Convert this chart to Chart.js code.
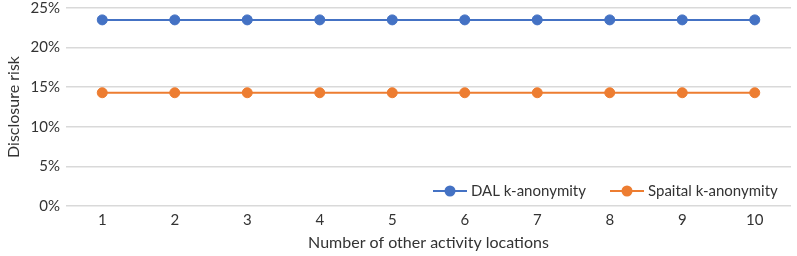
<!DOCTYPE html>
<html>
<head>
<meta charset="utf-8">
<script src="https://cdn.jsdelivr.net/npm/chart.js@4"></script>
<style>
    html, body { margin: 0; padding: 0; background: #fff; }
    #wrap { width: 797px; height: 256px; position: relative; }
</style>
</head>
<body>
<div id="wrap"><canvas id="riskChart" width="797" height="256"></canvas></div>
<script>
// chart data
const categories = ["1", "2", "3", "4", "5", "6", "7", "8", "9", "10"];
const dalValues = [0.235, 0.235, 0.235, 0.235, 0.235, 0.235, 0.235, 0.235, 0.235, 0.235];
const spatialValues = [0.143, 0.143, 0.143, 0.143, 0.143, 0.143, 0.143, 0.143, 0.143, 0.143];
const yTicks = [0, 0.05, 0.10, 0.15, 0.20, 0.25];

const FONT = "Lato, 'Open Sans', sans-serif";
const TEXT = "#333333";

// Excel style legend drawn inside the plot area (line through marker)
const insideLegend = {
    id: "insideLegend",
    afterDraw(chart) {
        const ctx = chart.ctx;
        const y = chart.chartArea.bottom - 15;
        const items = [
            { x: 433, ds: chart.data.datasets[0] },
            { x: 610, ds: chart.data.datasets[1] }
        ];
        ctx.save();
        items.forEach(it => {
            ctx.strokeStyle = it.ds.borderColor;
            ctx.lineWidth = 2;
            ctx.beginPath();
            ctx.moveTo(it.x, y);
            ctx.lineTo(it.x + 34, y);
            ctx.stroke();
            ctx.fillStyle = it.ds.backgroundColor;
            ctx.beginPath();
            ctx.arc(it.x + 17, y, 5.5, 0, Math.PI * 2);
            ctx.fill();
            ctx.fillStyle = TEXT;
            ctx.font = "15px " + FONT;
            ctx.textBaseline = "middle";
            ctx.fillText(it.ds.label, it.x + 38, y);
        });
        ctx.restore();
    }
};

document.addEventListener("DOMContentLoaded", () => {
    const ctx = document.getElementById("riskChart").getContext("2d");

    new Chart(ctx, {
        type: "line",
        data: {
            labels: categories,
            datasets: [
                {
                    label: "DAL k-anonymity",
                    data: dalValues,
                    borderColor: "#4472C4",
                    backgroundColor: "#4472C4",
                    borderWidth: 2,
                    pointRadius: 5,
                    pointBorderWidth: 1,
                    pointHoverRadius: 5,
                    tension: 0
                },
                {
                    label: "Spaital k-anonymity",
                    data: spatialValues,
                    borderColor: "#ED7D31",
                    backgroundColor: "#ED7D31",
                    borderWidth: 2,
                    pointRadius: 5,
                    pointBorderWidth: 1,
                    pointHoverRadius: 5,
                    tension: 0
                }
            ]
        },
        options: {
            responsive: false,
            animation: false,
            layout: { padding: { top: 8, right: 0, left: 0, bottom: 0 } },
            plugins: {
                legend: { display: false },
                tooltip: { enabled: false }
            },
            scales: {
                x: {
                    offset: true,
                    grid: { display: false, drawTicks: false },
                    border: { display: false },
                    ticks: { color: TEXT, font: { family: FONT, size: 15 }, padding: 5 },
                    title: {
                        display: true,
                        text: "Number of other activity locations",
                        color: TEXT,
                        font: { family: FONT, size: 16 },
                        padding: { top: 8 }
                    },
                    afterFit(scale) { scale.height = 50; }
                },
                y: {
                    min: 0,
                    max: 0.25,
                    afterBuildTicks(scale) {
                        scale.ticks = yTicks.map(v => ({ value: v }));
                    },
                    grid: { color: "#d9d9d9", lineWidth: 1.5, drawTicks: false },
                    border: { display: false },
                    ticks: {
                        color: TEXT,
                        font: { family: FONT, size: 15 },
                        padding: 6,
                        callback: v => Math.round(v * 100) + "%"
                    },
                    title: {
                        display: true,
                        text: "Disclosure risk",
                        color: TEXT,
                        font: { family: FONT, size: 16 },
                        padding: { bottom: 2 }
                    },
                    afterFit(scale) {
                        scale.width = 66;
                        scale.paddingTop = 0;
                        scale.paddingBottom = 0;
                    }
                }
            }
        },
        plugins: [insideLegend]
    });
});
</script>
</body>
</html>
